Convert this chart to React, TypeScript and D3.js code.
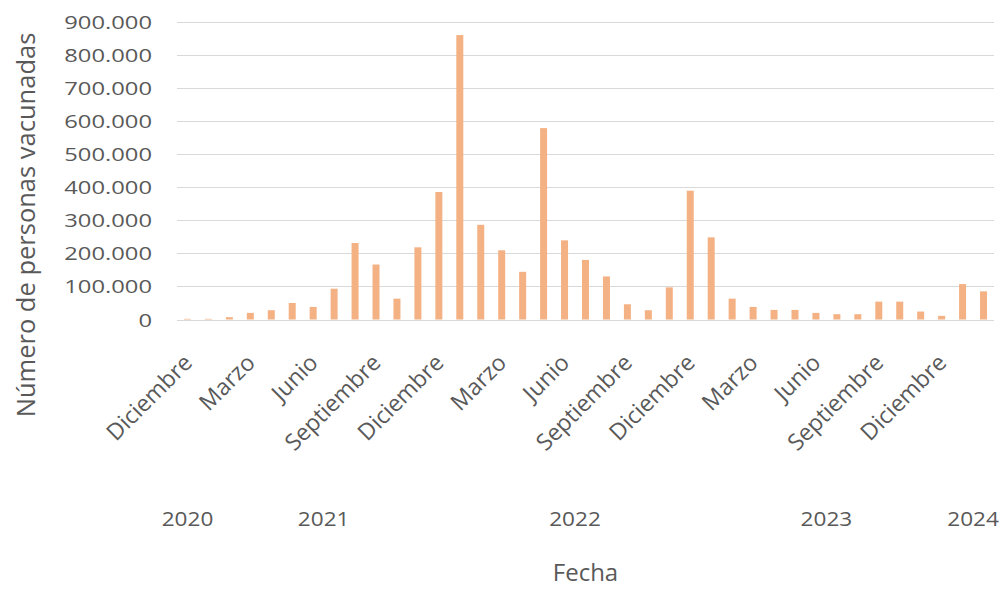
import React from "react";
import * as d3 from "d3";

const categories: string[] = [
  "Diciembre",
  "Enero", "Febrero", "Marzo", "Abril", "Mayo", "Junio", "Julio", "Agosto", "Septiembre", "Octubre", "Noviembre", "Diciembre",
  "Enero", "Febrero", "Marzo", "Abril", "Mayo", "Junio", "Julio", "Agosto", "Septiembre", "Octubre", "Noviembre", "Diciembre",
  "Enero", "Febrero", "Marzo", "Abril", "Mayo", "Junio", "Julio", "Agosto", "Septiembre", "Octubre", "Noviembre", "Diciembre",
  "Enero", "Febrero",
];

const categoryYears: string[] = [
  "2020",
  "2021", "2021", "2021", "2021", "2021", "2021", "2021", "2021", "2021", "2021", "2021", "2021",
  "2022", "2022", "2022", "2022", "2022", "2022", "2022", "2022", "2022", "2022", "2022", "2022",
  "2023", "2023", "2023", "2023", "2023", "2023", "2023", "2023", "2023", "2023", "2023", "2023",
  "2024", "2024",
];

const vaccinated: number[] = [
  2000,
  2000, 7000, 20000, 28000, 50000, 38000, 93000, 231000, 166000, 63000, 218000, 385000,
  859000, 286000, 209000, 144000, 578000, 239000, 180000, 130000, 46000, 28000, 97000, 389000,
  248000, 63000, 38000, 29000, 29000, 20000, 16000, 16000, 54000, 54000, 24000, 11000,
  107000, 85000,
];

const shownMonthLabels: string[] = ["Diciembre", "Marzo", "Junio", "Septiembre"];
const years: string[] = ["2020", "2021", "2022", "2023", "2024"];
const yTicks: number[] = [0, 100000, 200000, 300000, 400000, 500000, 600000, 700000, 800000, 900000];

const W = 1008;
const H = 589;
const left = 177;
const right = 994;
const top = 21.5;
const bottom = 319.5;
const textColor = "#595959";
const font = "'Open Sans', sans-serif";

const esLocale = d3.formatLocale({ decimal: ",", thousands: ".", grouping: [3], currency: ["", "€"] });
const fmt = esLocale.format(",d");

export default function App() {
  const idx = categories.map((_, i) => String(i));
  const x = d3.scaleBand<string>().domain(idx).range([left, right]).paddingInner(0.666).paddingOuter(0.333);
  const y = d3.scaleLinear().domain([0, 900000]).range([bottom, top]);
  const cx = (i: number) => (x(String(i)) as number) + x.bandwidth() / 2;

  return (
    <svg width={W} height={H} style={{ position: "absolute", left: 0, top: 0, background: "#fff" }}>
      <rect x={0} y={0} width={W} height={H} fill="#fff" />
      {yTicks.map((t) => (
        <g key={t}>
          <line x1={left} x2={right} y1={Math.round(y(t)) + 0.5} y2={Math.round(y(t)) + 0.5} stroke="#D9D9D9" strokeWidth={1} />
          <text
            transform={`translate(152, ${y(t) + 7}) scale(1.25, 1)`}
            textAnchor="end"
            fontFamily={font}
            fontSize={19}
            fill={textColor}
          >
            {fmt(t)}
          </text>
        </g>
      ))}
      {vaccinated.map((v, i) => (
        <rect
          key={i}
          x={x(String(i))}
          y={y(v)}
          width={x.bandwidth()}
          height={y(0) - y(v)}
          fill="#F4B183"
        />
      ))}
      {categories.map((c, i) =>
        i % 3 === 0 && shownMonthLabels.includes(c) ? (
          <text
            key={"m" + i}
            transform={`translate(${cx(i) - 6}, ${352}) rotate(-45)`}
            textAnchor="end"
            dy="0.75em"
            fontFamily={font}
            fontSize={23}
            fill={textColor}
          >
            {c}
          </text>
        ) : null
      )}
      {years.map((yr) => {
        const ids = categoryYears.map((v, i) => (v === yr ? i : -1)).filter((i) => i >= 0);
        const c0 = cx(ids[0]);
        const c1 = cx(ids[ids.length - 1]);
        return (
          <text
            key={yr}
            transform={`translate(${(c0 + c1) / 2}, 526) scale(1.13, 1)`}
            textAnchor="middle"
            fontFamily={font}
            fontSize={20}
            fill={textColor}
          >
            {yr}
          </text>
        );
      })}
      <text x={(left + right) / 2} y={581} textAnchor="middle" fontFamily={font} fontSize={24} fill={textColor}>
        Fecha
      </text>
      <text
        transform={`translate(35, 225) rotate(-90)`}
        textAnchor="middle"
        fontFamily={font}
        fontSize={25.5}
        fill={textColor}
      >
        Número de personas vacunadas
      </text>
    </svg>
  );
}
